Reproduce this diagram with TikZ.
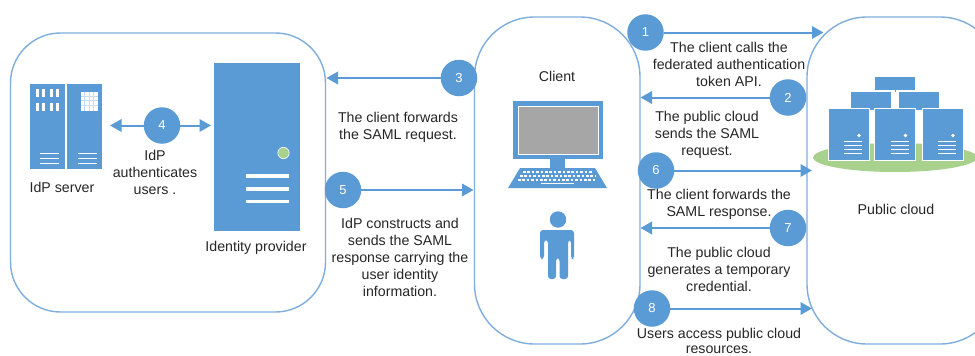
\documentclass[tikz,border=0pt]{standalone}
\usepackage{fontspec}
\setmainfont{Liberation Sans}
\usetikzlibrary{arrows.meta}
\definecolor{hwblue}{HTML}{5B9BD5}
\definecolor{hwedge}{HTML}{7FAEDC}
\definecolor{hwgreen}{HTML}{A9D18E}
\definecolor{hwgrey}{HTML}{A6A6A6}
\definecolor{hwtext}{HTML}{262626}
\tikzset{
  zone/.style={draw=hwedge,line width=1.4pt,fill=white},
  numdot/.style={circle,fill=hwblue,text=white,minimum size=36.5pt,inner sep=0pt,font=\fontsize{13}{15}\selectfont},
  flow/.style={draw=hwblue,line width=2pt,-{Triangle[length=11.5pt,width=12.5pt]}},
  caption/.style={align=center,inner sep=0pt,text=hwtext,font=\fontsize{14.2}{17}\selectfont},
  solid box/.style={fill=hwblue,draw=none},
  front box/.style={fill=hwblue,draw=white,line width=0.8pt},
}
\begin{document}
\begin{tikzpicture}[x=1pt,y=-1pt]
\useasboundingbox (0,0) rectangle (975,356);
\clip (0,0) rectangle (975,356);
\fill[white] (0,0) rectangle (975,356);
% zones
\draw[zone,rounded corners=50pt] (10.5,33) rectangle (325.5,312);
\draw[zone,rounded corners=60pt] (474.5,17) rectangle (640,344);
\draw[zone,rounded corners=60pt] (807,17) rectangle (1000,344);
% IdP server
\fill[solid box] (30,84) rectangle (65,169);
\fill[solid box] (67,84) rectangle (102,169);
\foreach \x in {36,42,50,56}{\foreach \y in {93,107}{\fill[white] (\x,\y-4) rectangle +(3.4,7.5);}}
\fill[white] (81,92) rectangle (98,111);
\foreach \x in {84.5,89,93.5}{\draw[hwblue!35,line width=.5pt] (\x,92) -- (\x,111);}
\foreach \y in {96,100.5,105}{\draw[hwblue!35,line width=.5pt] (81,\y) -- (98,\y);}
\foreach \y in {153,158,163}{\draw[white,line width=.9pt] (40,\y) -- (59,\y); \draw[white,line width=.9pt] (78,\y) -- (97,\y);}
% identity provider
\fill[solid box] (213.5,63) rectangle (299.5,231);
\fill[hwgreen,draw=white,line width=.6pt] (283.5,153) circle (5.7);
\foreach \y in {176,189,201.5}{\draw[white,line width=3.2pt] (246,\y) -- (289,\y);}
% client computer
\fill[solid box] (513,101) rectangle (603,159);
\fill[hwgrey,draw=white,line width=.8pt] (518,106) rectangle (598,154);
\fill[solid box] (550,159) rectangle (565,168);
\fill[solid box] (520,168) -- (595,168) -- (607,188) -- (508,188) -- cycle;
\foreach \y/\a/\b in {172/523/592,176/520/595,180/518/597}{\draw[white,line width=1.3pt,dash pattern=on 2.6pt off 1.8pt] (\a,\y) -- (\b,\y);}
\draw[white,line width=1.6pt] (541,183.5) -- (574,183.5);
% person
\fill[hwblue] (558,219.5) circle (8.2);
\fill[hwblue,rounded corners=3pt] (540,259) -- (540,230) -- (574,230) -- (574,259) -- (571,259) -- (571,240) -- (568,240) -- (568,279) -- (559.5,279) -- (559.5,258) -- (556,258) -- (556,279) -- (548,279) -- (548,240) -- (544,240) -- (544,259) -- cycle;
% public cloud servers
\fill[hwgreen] (895,157.5) ellipse (82 and 14.5);
\fill[solid box] (875,77) rectangle (915,90);
\draw[hwblue,line width=1pt] (895,90) -- (895,92);
\fill[solid box] (851,92) rectangle (891,110);
\fill[solid box] (899,92) rectangle (939,110);
\foreach \x in {828,874.5,922}{
  \fill[front box] (\x,108) rectangle +(41,52);
  \fill[white] (\x+31,135.5) circle (1.8);
  \foreach \y in {141,145,149,153}{\draw[white,line width=.9pt] (\x+16,\y) -- (\x+34,\y);}
}
% connectors' free ends
\coordinate (e1) at (823.5,32.5);
\coordinate (e2) at (640.5,97.5);
\coordinate (e3) at (326.5,78);
\coordinate (e4l) at (110,125.5);
\coordinate (e4r) at (211,125.5);
\coordinate (e5) at (473.5,190);
\coordinate (e6) at (812,170.5);
\coordinate (e7) at (640.5,228);
\coordinate (e8) at (812,308.5);
% number dots
\node[numdot] (n1) at (645.5,32.5) {1};
\node[numdot] (n2) at (788,97.5) {2};
\node[numdot] (n3) at (459,78) {3};
\node[numdot] (n4) at (162,125.5) {4};
\node[numdot] (n5) at (343,190) {5};
\node[numdot] (n6) at (656,170.5) {6};
\node[numdot] (n7) at (788,228) {7};
\node[numdot] (n8) at (652,308.5) {8};
% connectors
\draw[flow] (n1) -- (e1);
\draw[flow] (n2) -- (e2);
\draw[flow] (n3) -- (e3);
\draw[flow] (n4) -- (e4l);
\draw[flow] (n4) -- (e4r);
\draw[flow] (n5) -- (e5);
\draw[flow] (n6) -- (e6);
\draw[flow] (n7) -- (e7);
\draw[flow] (n8) -- (e8);
% captions
\node[caption] (tclient) at (557,76) {Client};
\node[caption] (tcloud) at (896,209) {Public cloud};
\node[caption] (tserver) at (62,187) {IdP server};
\node[caption] (tidp) at (256,248) {Identity provider};
\node[caption] (t4) at (155,172) {IdP\\authenticates\\users .};
\node[caption] (t3) at (398,127) {The client forwards\\the SAML request.};
\node[caption] (t5) at (400,257.5) {IdP constructs and\\sends the SAML\\response carrying the\\user identity\\information.};
\node[caption] (t1) at (729,64) {The client calls the\\federated authentication\\token API.};
\node[caption] (t2) at (707,134.5) {The public cloud\\sends the SAML\\request.};
\node[caption] (t6) at (719,204) {The client forwards the\\SAML response.};
\node[caption] (t7) at (719,269) {The public cloud\\generates a temporary\\credential.};
\node[caption,font=\fontsize{14.2}{15.5}\selectfont] (t8) at (719,341) {Users access public cloud\\resources.};
\end{tikzpicture}
\end{document}
